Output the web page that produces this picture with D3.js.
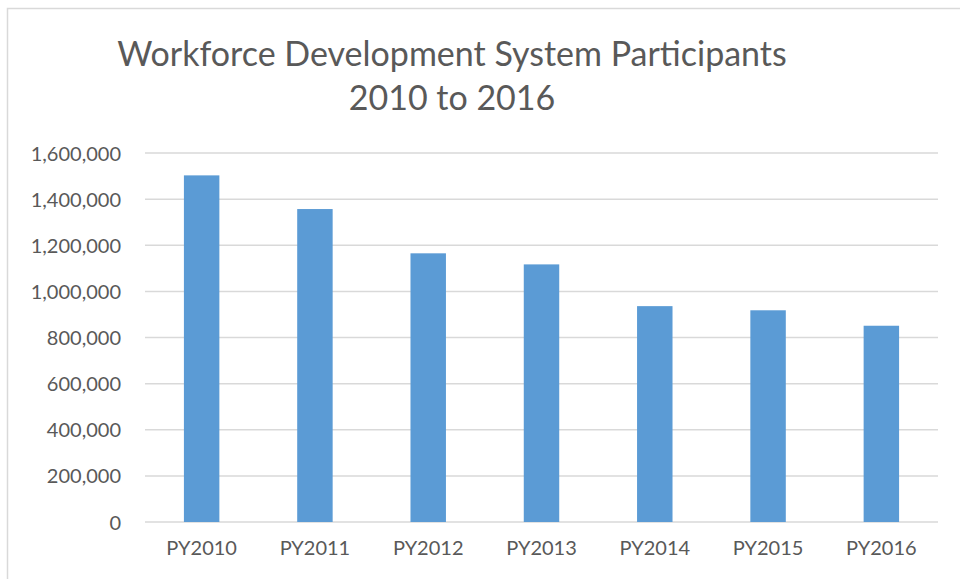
<!DOCTYPE html>
<html>
<head>
<meta charset="utf-8">
<script src="https://cdn.jsdelivr.net/npm/d3@7"></script>
<style>
  html, body { margin: 0; padding: 0; background: #fff; }
  svg { display: block; }
  text { font-family: Lato, "Open Sans", sans-serif; fill: #595959; }
</style>
</head>
<body>
<svg id="chart" width="960" height="579"></svg>
<script>
const categories = ["PY2010", "PY2011", "PY2012", "PY2013", "PY2014", "PY2015", "PY2016"];
const participants = [1503000, 1357000, 1165000, 1117000, 936000, 918000, 851000];
const yTicks = [0, 200000, 400000, 600000, 800000, 1000000, 1200000, 1400000, 1600000];
const titleLines = ["Workforce Development System Participants", "2010 to 2016"];

const svg = d3.select("#chart");
const W = 960, H = 579;
const margin = { left: 145, right: 22, top: 153, bottom: 57 };

// chart border
svg.append("rect")
  .attr("x", 7.5).attr("y", 8.5)
  .attr("width", W + 20).attr("height", H + 20)
  .attr("fill", "none").attr("stroke", "#d9d9d9").attr("stroke-width", 1.5);

const x = d3.scaleBand()
  .domain(categories)
  .range([margin.left, W - margin.right])
  .paddingInner(0.687)
  .paddingOuter(0.3435);

const y = d3.scaleLinear()
  .domain([0, 1600000])
  .range([H - margin.bottom, margin.top]);

// gridlines
svg.append("g")
  .selectAll("line")
  .data(yTicks)
  .join("line")
  .attr("x1", margin.left).attr("x2", W - margin.right)
  .attr("y1", d => y(d)).attr("y2", d => y(d))
  .attr("stroke", "#d9d9d9").attr("stroke-width", 1.5);

// bars
svg.append("g")
  .selectAll("rect")
  .data(categories)
  .join("rect")
  .attr("x", d => x(d))
  .attr("width", x.bandwidth())
  .attr("y", (d, i) => y(participants[i]))
  .attr("height", (d, i) => y(0) - y(participants[i]))
  .attr("fill", "#5b9bd5");

// y axis
const fmt = d3.format(",");
const yAxis = d3.axisLeft(y).tickValues(yTicks).tickFormat(fmt).tickSize(0).tickPadding(24);
const yg = svg.append("g").attr("transform", `translate(${margin.left},0)`).call(yAxis);
yg.select(".domain").remove();
yg.selectAll("text").attr("font-size", 20).attr("fill", "#595959")
  .style("font-family", "Lato, 'Open Sans', sans-serif").attr("dy", "0.35em");

// x axis
const xAxis = d3.axisBottom(x).tickSize(0).tickPadding(19);
const xg = svg.append("g").attr("transform", `translate(0,${y(0)})`).call(xAxis);
xg.select(".domain").remove();
xg.selectAll("text").attr("font-size", 20).attr("fill", "#595959")
  .style("font-family", "Lato, 'Open Sans', sans-serif");

// title
svg.append("g").selectAll("text")
  .data(titleLines)
  .join("text")
  .attr("x", 452)
  .attr("y", (d, i) => 66 + i * 44)
  .attr("text-anchor", "middle")
  .attr("font-size", 34)
  .text(d => d);
</script>
</body>
</html>
